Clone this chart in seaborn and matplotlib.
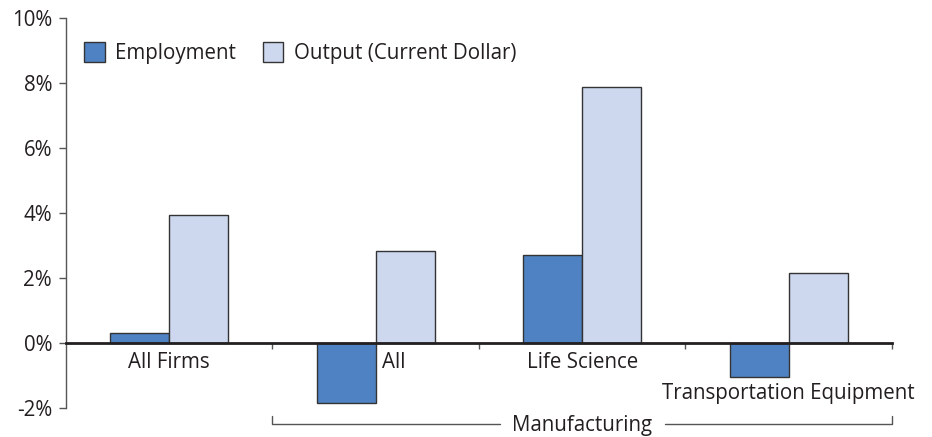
# Growth rates by sector, employment vs output.
import numpy as np
import pandas as pd
import seaborn as sns
import matplotlib
matplotlib.use('Agg')
import matplotlib.pyplot as plt

categories = ["All Firms", "All", "Life Science", "Transportation Equipment"]
employment = [0.3, -1.85, 2.7, -1.03]
output = [3.95, 2.82, 7.88, 2.17]
series_names = ["Employment", "Output (Current Dollar)"]
y_ticks = [-2, 0, 2, 4, 6, 8, 10]
group_label = "Manufacturing"

df = pd.DataFrame({
    "category": categories * 2,
    "series": [series_names[0]] * len(categories) + [series_names[1]] * len(categories),
    "value": employment + output,
})

sns.set_style("white")
plt.rcParams['font.family'] = ['Open Sans', 'DejaVu Sans']
text_color = "#231f20"
fs = 14.8

fig, ax = plt.subplots(figsize=(9.32, 4.37), dpi=100)
plt.subplots_adjust(left=0.0708, right=0.957, top=0.959, bottom=0.066)

sns.barplot(data=df, x="category", y="value", hue="series", order=categories,
            hue_order=series_names, palette=["#4f82c3", "#cdd8ee"], saturation=1,
            width=0.57, edgecolor="#333333", linewidth=1.0, ax=ax)

ax.set_xlim(-0.5, 3.5)
ax.set_ylim(-2, 10)
ax.set_yticks(y_ticks)
ax.set_yticklabels(["{}%".format(t) for t in y_ticks], fontsize=fs, color=text_color)
ax.set_xlabel("")
ax.set_ylabel("")

# zero line acts as the category axis
for side in ["top", "right"]:
    ax.spines[side].set_visible(False)
ax.spines["left"].set_color("#555555")
ax.spines["left"].set_linewidth(1.0)
ax.spines["bottom"].set_position(("data", 0))
ax.spines["bottom"].set_color(text_color)
ax.spines["bottom"].set_linewidth(2.0)
ax.set_xticks([])
ax.set_xticks([0.5, 1.5, 2.5, 3.5], minor=True)
ax.tick_params(axis="x", which="minor", direction="out", length=4, width=1, color="#555555",
               bottom=True)
ax.tick_params(axis="y", direction="out", length=5, width=1, color="#555555", left=True, pad=5)

# category labels
ax.text(0, -0.6, categories[0], ha="center", va="center", fontsize=fs, color=text_color)
ax.text(1.03, -0.6, categories[1], ha="left", va="center", fontsize=fs, color=text_color)
ax.text(2, -0.6, categories[2], ha="center", va="center", fontsize=fs, color=text_color)
ax.text(3, -1.55, categories[3], ha="center", va="center", fontsize=fs, color=text_color)

# manufacturing bracket
ax.plot([0.5, 0.5, 1.6], [-2.25, -2.5, -2.5], color="#555555", lw=1, clip_on=False)
ax.plot([2.4, 3.5, 3.5], [-2.5, -2.5, -2.25], color="#555555", lw=1, clip_on=False)
ax.text(2, -2.52, group_label, ha="center", va="center", fontsize=fs, color=text_color)

leg = ax.legend(loc="upper left", bbox_to_anchor=(0.0, 0.985), ncol=2, frameon=False,
                fontsize=fs, handlelength=1.0, handleheight=1.1, handletextpad=0.5,
                columnspacing=1.3)
for t in leg.get_texts():
    t.set_color(text_color)

fig.savefig("out.png", dpi=100)
plt.close()
